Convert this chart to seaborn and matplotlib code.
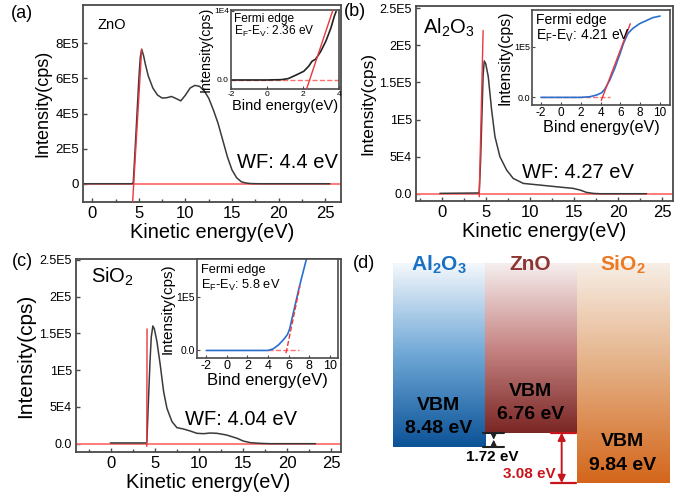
import numpy as np
import pandas as pd
import matplotlib
matplotlib.use("Agg")
import matplotlib.pyplot as plt
import seaborn as sns
from matplotlib.colors import LinearSegmentedColormap
from matplotlib.ticker import FixedLocator, FixedFormatter, MultipleLocator

# ---------------- data ----------------
# (a) ZnO secondary-electron cutoff, intensity in units of 1E5 cps
zno_ke = [-1.0, 4.3, 4.4, 4.6, 4.8, 5.0, 5.15, 5.3, 5.5, 5.7, 6.0, 6.5, 7.0, 7.5, 8.0, 8.5,
          9.0, 9.5, 10.0, 10.5, 11.0, 11.5, 12.0, 12.5, 13.0, 13.5, 14.0, 14.5, 15.0, 15.5,
          16.0, 16.5, 17.0, 18.0, 25.5]
zno_int = [0.0, 0.0, 0.1, 2.0, 4.0, 6.0, 7.2, 7.66, 7.3, 6.8, 6.15, 5.45, 5.05, 4.88, 4.9, 4.97,
           4.85, 4.72, 5.05, 5.45, 5.6, 5.55, 5.3, 4.87, 4.2, 3.44, 2.49, 1.54, 0.78, 0.34,
           0.11, 0.04, 0.01, 0.0, 0.0]
zno_tan_x = [4.33, 5.3]
zno_tan_y = [-1.03, 7.66]
zno_wf = "WF: 4.4 eV"

# (b) Al2O3, intensity in units of 1E4 cps
al_ke = [-0.2, 4.2, 4.26, 4.4, 4.55, 4.7, 4.83, 5.0, 5.28, 5.66, 6.04, 6.6, 7.36, 8.1, 9.25,
         11.1, 13.0, 14.9, 15.7, 16.4, 17.2, 18.0, 23.2]
al_int = [0.05, 0.1, 0.3, 4.0, 10.0, 16.0, 17.9, 17.5, 15.8, 11.3, 7.7, 5.0, 3.2, 2.07, 1.39,
          1.17, 0.94, 0.72, 0.49, 0.18, 0.04, 0.0, 0.0]
al_tan_x = [4.26, 4.7]
al_tan_y = [-0.4, 22.0]
al_wf = "WF: 4.27 eV"

# (c) SiO2, intensity in units of 1E4 cps
si_ke = [-0.1, 4.0, 4.05, 4.2, 4.4, 4.55, 4.73, 4.9, 5.19, 5.57, 5.95, 6.33, 6.9, 7.46, 8.2,
         8.98, 9.73, 10.5, 11.25, 12.0, 13.1, 14.3, 15.0, 15.8, 16.9, 18.0, 23.2]
si_int = [0.1, 0.1, 0.3, 5.0, 11.0, 14.5, 16.0, 15.6, 13.9, 10.7, 7.1, 4.8, 3.0, 2.18, 2.0,
          1.72, 1.41, 1.36, 1.45, 1.41, 1.18, 0.73, 0.36, 0.14, 0.05, 0.0, 0.0]
si_tan_x = [4.04, 4.07]
si_tan_y = [-0.35, 15.6]
si_wf = "WF: 4.04 eV"

# insets: valence band edge (binding energy)
zno_be = [-2.0, 0.0, 0.8, 1.18, 1.66, 2.04, 2.32, 2.5, 2.7, 2.98, 3.27, 3.55, 3.74, 3.84]
zno_vb = [0.0, 0.0, 0.005, 0.02, 0.077, 0.125, 0.2, 0.27, 0.3, 0.41, 0.56, 0.75, 0.92, 0.99]  # 1E4
zno_fit_x = [2.2, 3.65]
zno_fit_y = [-0.13, 1.0]
zno_base_x = [-2.0, 4.0]
zno_edge = "E$_F$-E$_V$: 2.36 eV"

al_be = [-2.0, 0.0, 2.0, 2.93, 3.6, 4.1, 4.43, 4.93, 5.43, 5.93, 6.33, 6.77, 7.27, 7.93, 8.6,
         9.27, 10.0]
al_vb = [0.0, 0.0, 0.0, 0.013, 0.046, 0.09, 0.16, 0.34, 0.57, 0.84, 1.07, 1.26, 1.36, 1.45,
         1.51, 1.57, 1.6]  # 1E5
al_fit_x = [4.08, 7.0]
al_fit_y = [-0.06, 1.45]
al_base_x = [-2.0, 5.0]
al_edge = "E$_F$-E$_V$: 4.21 eV"

si_be = [-2.0, 0.0, 2.0, 4.0, 4.5, 5.0, 5.5, 5.9, 6.1, 6.4, 6.7, 7.0, 7.4, 7.8]
si_vb = [0.0, 0.0, 0.0, 0.0, 0.03, 0.1, 0.2, 0.3, 0.4, 0.65, 0.9, 1.15, 1.45, 1.75]  # 1E5
si_fit_x = [5.75, 7.1]
si_fit_y = [-0.05, 1.2]
si_base_x = [4.0, 7.0]
si_edge = "E$_F$-E$_V$: 5.8 eV"

# tick labels
main_xticks = [0, 5, 10, 15, 20, 25]
zno_yticks = [0, 2, 4, 6, 8]
zno_yticklabels = ["0", "2E5", "4E5", "6E5", "8E5"]
ox_yticks = [0, 5, 10, 15, 20, 25]
ox_yticklabels = ["0.0", "5E4", "1E5", "1.5E5", "2E5", "2.5E5"]
zno_in_xticks = [-2, 0, 2, 4]
ox_in_xticks = [-2, 0, 2, 4, 6, 8, 10]
zno_in_yticks = [0, 1]
zno_in_yticklabels = ["0.0", "1E4"]
ox_in_yticks = [0, 1]
ox_in_yticklabels = ["0.0", "1E5"]

# (d) band alignment
materials = ["Al$_2$O$_3$", "ZnO", "SiO$_2$"]
vbm = [8.48, 6.76, 9.84]
offset_al_zno = "1.72 eV"
offset_si_zno = "3.08 eV"

# ---------------- style ----------------
sns.set_style("ticks")
plt.rcParams["font.family"] = ["Liberation Sans", "DejaVu Sans"]
plt.rcParams["mathtext.default"] = "regular"
plt.rcParams["axes.unicode_minus"] = False
plt.rcParams["text.color"] = "black"
plt.rcParams["axes.labelcolor"] = "black"
plt.rcParams["axes.edgecolor"] = "#4a4a4a"
plt.rcParams["axes.linewidth"] = 1.3

CURVE = "#3a3a3a"
RED = "#e8383d"
BASE = "#ff7070"
BLUE = "#2a6fcf"

fig = plt.figure(figsize=(6.97, 4.95), dpi=100)
W, H = 697.0, 495.0


def rect(l, r, t, b):
    return [l / W, 1 - b / H, (r - l) / W, (b - t) / H]


def main_panel(box, ke, inten, tx, ty, xlim, ylim, yticks, ylabels, ysize, ylabsize,
               name, name_pos, name_size, wf, wf_pos):
    ax = fig.add_axes(box)
    ax.axhline(0, color=BASE, lw=1.3, zorder=1)
    sns.lineplot(x=ke, y=inten, ax=ax, color=CURVE, lw=1.1, sort=False, estimator=None, zorder=2)
    sns.lineplot(x=tx, y=ty, ax=ax, color=RED, lw=1.0, sort=False, estimator=None, zorder=3)
    ax.set_xlim(*xlim)
    ax.set_ylim(*ylim)
    ax.xaxis.set_major_locator(FixedLocator(main_xticks))
    ax.xaxis.set_minor_locator(MultipleLocator(2.5))
    ax.yaxis.set_major_locator(FixedLocator(yticks))
    ax.yaxis.set_major_formatter(FixedFormatter(ylabels))
    ax.tick_params(direction="in", length=3, width=1, colors="#4a4a4a", top=False, right=False)
    ax.tick_params(which="minor", direction="in", length=2, width=1, colors="#4a4a4a")
    ax.tick_params(axis="x", labelsize=12, labelcolor="black", pad=3)
    ax.tick_params(axis="y", labelsize=ysize, labelcolor="black", pad=3)
    ax.set_xlabel("Kinetic energy(eV)", fontsize=14.3, labelpad=1)
    ax.set_ylabel("Intensity(cps)", fontsize=ylabsize, labelpad=3)
    ax.text(*name_pos, name, transform=ax.transAxes, fontsize=name_size, ha="left", va="center")
    ax.text(*wf_pos, wf, transform=ax.transAxes, fontsize=14.5, ha="left", va="center")
    return ax


def inset(box, be, vb, fx, fy, bx, xlim, ylim, xticks, yticks, ylabels, color, fit_ls,
          edge, fsize, xtsize, ytsize, ylabsize, xlabsize):
    ax = fig.add_axes(box)
    sns.lineplot(x=bx, y=[0, 0], ax=ax, color=BASE, lw=1.0, linestyle="--", sort=False,
                 estimator=None, zorder=1)
    sns.lineplot(x=be, y=vb, ax=ax, color=color, lw=1.2, sort=False, estimator=None, zorder=2)
    sns.lineplot(x=fx, y=fy, ax=ax, color=RED, lw=1.0, linestyle=fit_ls, sort=False,
                 estimator=None, zorder=3)
    ax.set_xlim(*xlim)
    ax.set_ylim(*ylim)
    ax.xaxis.set_major_locator(FixedLocator(xticks))
    ax.yaxis.set_major_locator(FixedLocator(yticks))
    ax.yaxis.set_major_formatter(FixedFormatter(ylabels))
    ax.tick_params(direction="in", length=2.5, width=0.8, colors="#4a4a4a", pad=1.5)
    ax.tick_params(axis="x", labelsize=xtsize, labelcolor="black")
    ax.tick_params(axis="y", labelsize=ytsize, labelcolor="black")
    for s in ax.spines.values():
        s.set_linewidth(1.2)
    ax.set_xlabel("Bind energy(eV)", fontsize=xlabsize, labelpad=0.5)
    ax.set_ylabel("Intensity(cps)", fontsize=ylabsize, labelpad=1)
    ax.text(0.03, 0.89, "Fermi edge", transform=ax.transAxes, fontsize=fsize, ha="left", va="center")
    ax.text(0.03, 0.73, edge, transform=ax.transAxes, fontsize=fsize, ha="left", va="center")
    return ax


# (a)
main_panel(rect(83, 341, 5, 202), zno_ke, zno_int, zno_tan_x, zno_tan_y, (-1.0, 26.7),
           (-1.04, 10.18), zno_yticks, zno_yticklabels, 9.5, 13, "ZnO", (0.055, 0.90), 10.5,
           zno_wf, (0.597, 0.198))
inset(rect(231, 339, 10, 89), zno_be, zno_vb, zno_fit_x, zno_fit_y, zno_base_x, (-2, 4),
      (-0.13, 1.01), zno_in_xticks, zno_in_yticks, zno_in_yticklabels, "#222222", "-",
      zno_edge, 8.6, 6, 6, 10.3, 10.5)

# (b)
main_panel(rect(416, 673, 6, 201), al_ke, al_int, al_tan_x, al_tan_y, (-2.9, 26.2),
           (-0.98, 25.3), ox_yticks, ox_yticklabels, 9, 12.4, "Al$_2$O$_3$", (0.026, 0.887), 14.5,
           al_wf, (0.411, 0.144))
inset(rect(532, 670, 10, 105), al_be, al_vb, al_fit_x, al_fit_y, al_base_x, (-2.9, 11.0),
      (-0.15, 1.72), ox_in_xticks, ox_in_yticks, ox_in_yticklabels, BLUE, "-",
      al_edge, 10, 8.5, 6.5, 11.4, 11.6)

# (c)
main_panel(rect(76, 341, 259, 452), si_ke, si_int, si_tan_x, si_tan_y, (-4.0, 26.1),
           (-1.13, 25.1), ox_yticks, ox_yticklabels, 9, 15, "SiO$_2$", (0.055, 0.908), 14.5,
           si_wf, (0.411, 0.166))
inset(rect(197, 338, 259, 358), si_be, si_vb, si_fit_x, si_fit_y, si_base_x, (-2.9, 10.8),
      (-0.14, 1.70), ox_in_xticks, ox_in_yticks, ox_in_yticklabels, BLUE, "--",
      si_edge, 9.2, 9, 7.5, 11, 12)

# (d) band diagram (schematic, not to scale)
axd = fig.add_axes([0.5, 0.0, 0.5, 0.5])
axd.set_xlim(-0.48, 3.308)
axd.set_ylim(11.6, -0.775)
axd.set_axis_off()
bar_depth = [9.185, 8.485, 11.0]
grad_colors = [["#f4f8fc", "#6ea7d6", "#0b5297"],
               ["#f6eeee", "#c68584", "#7a2624"],
               ["#f7eee6", "#e3ac7f", "#d4661b"]]
title_colors = ["#1a70c2", "#8b3633", "#ec7a22"]
grad = np.linspace(0, 1, 256).reshape(-1, 1)
for i, (mat, v) in enumerate(zip(materials, vbm)):
    cmap = LinearSegmentedColormap.from_list(f"g{i}", grad_colors[i])
    axd.imshow(grad, extent=(i, i + 1, bar_depth[i], 0), aspect="auto", cmap=cmap,
               origin="upper", zorder=1)
    axd.text(i + 0.5, 0.1, mat, color=title_colors[i], fontsize=15, fontweight="bold",
             ha="center", va="center", zorder=3)
    axd.text(i + 0.5, bar_depth[i] - 2.05, "VBM", fontsize=14, fontweight="bold",
             ha="center", va="center", zorder=3)
    axd.text(i + 0.5, bar_depth[i] - 0.9, f"{v:.2f} eV", fontsize=14, fontweight="bold",
             ha="center", va="center", zorder=3)

# offsets: black (hourglass-style heads meeting in the middle)
BLK = "#222222"
axd.plot([0.978, 1.21], [bar_depth[1]] * 2, color=BLK, lw=1.5, zorder=4)
axd.plot([0.978, 1.21], [bar_depth[0]] * 2, color=BLK, lw=1.5, zorder=4)
mid = (bar_depth[0] + bar_depth[1]) / 2
for yend in (bar_depth[1], bar_depth[0]):
    axd.annotate("", xy=(1.098, mid), xytext=(1.098, yend),
                 arrowprops=dict(arrowstyle="-|>", color=BLK, lw=1.0, shrinkA=0, shrinkB=0,
                                 mutation_scale=8), zorder=4)
axd.text(1.08, 9.7, offset_al_zno, fontsize=11, fontweight="bold", ha="center", va="center")
RED_D = "#c8141c"
axd.plot([1.717, 1.992], [bar_depth[1]] * 2, color=RED_D, lw=1.6, zorder=4)
axd.plot([1.717, 1.992], [bar_depth[2]] * 2, color=RED_D, lw=1.6, zorder=4)
axd.annotate("", xy=(1.837, bar_depth[1]), xytext=(1.837, bar_depth[2]),
             arrowprops=dict(arrowstyle="<|-|>", color=RED_D, lw=1.4, shrinkA=0, shrinkB=0,
                             mutation_scale=11), zorder=4)
axd.text(1.49, 10.55, offset_si_zno, color=RED_D, fontsize=11, fontweight="bold",
         ha="center", va="center")

# panel letters
for lab, (px, py) in zip(["(a)", "(b)", "(c)", "(d)"],
                         [(22, 13), (355, 12), (22, 262), (364, 263)]):
    fig.text(px / W, 1 - py / H, lab, fontsize=13, ha="center", va="center")

fig.savefig("out.png", dpi=100)
